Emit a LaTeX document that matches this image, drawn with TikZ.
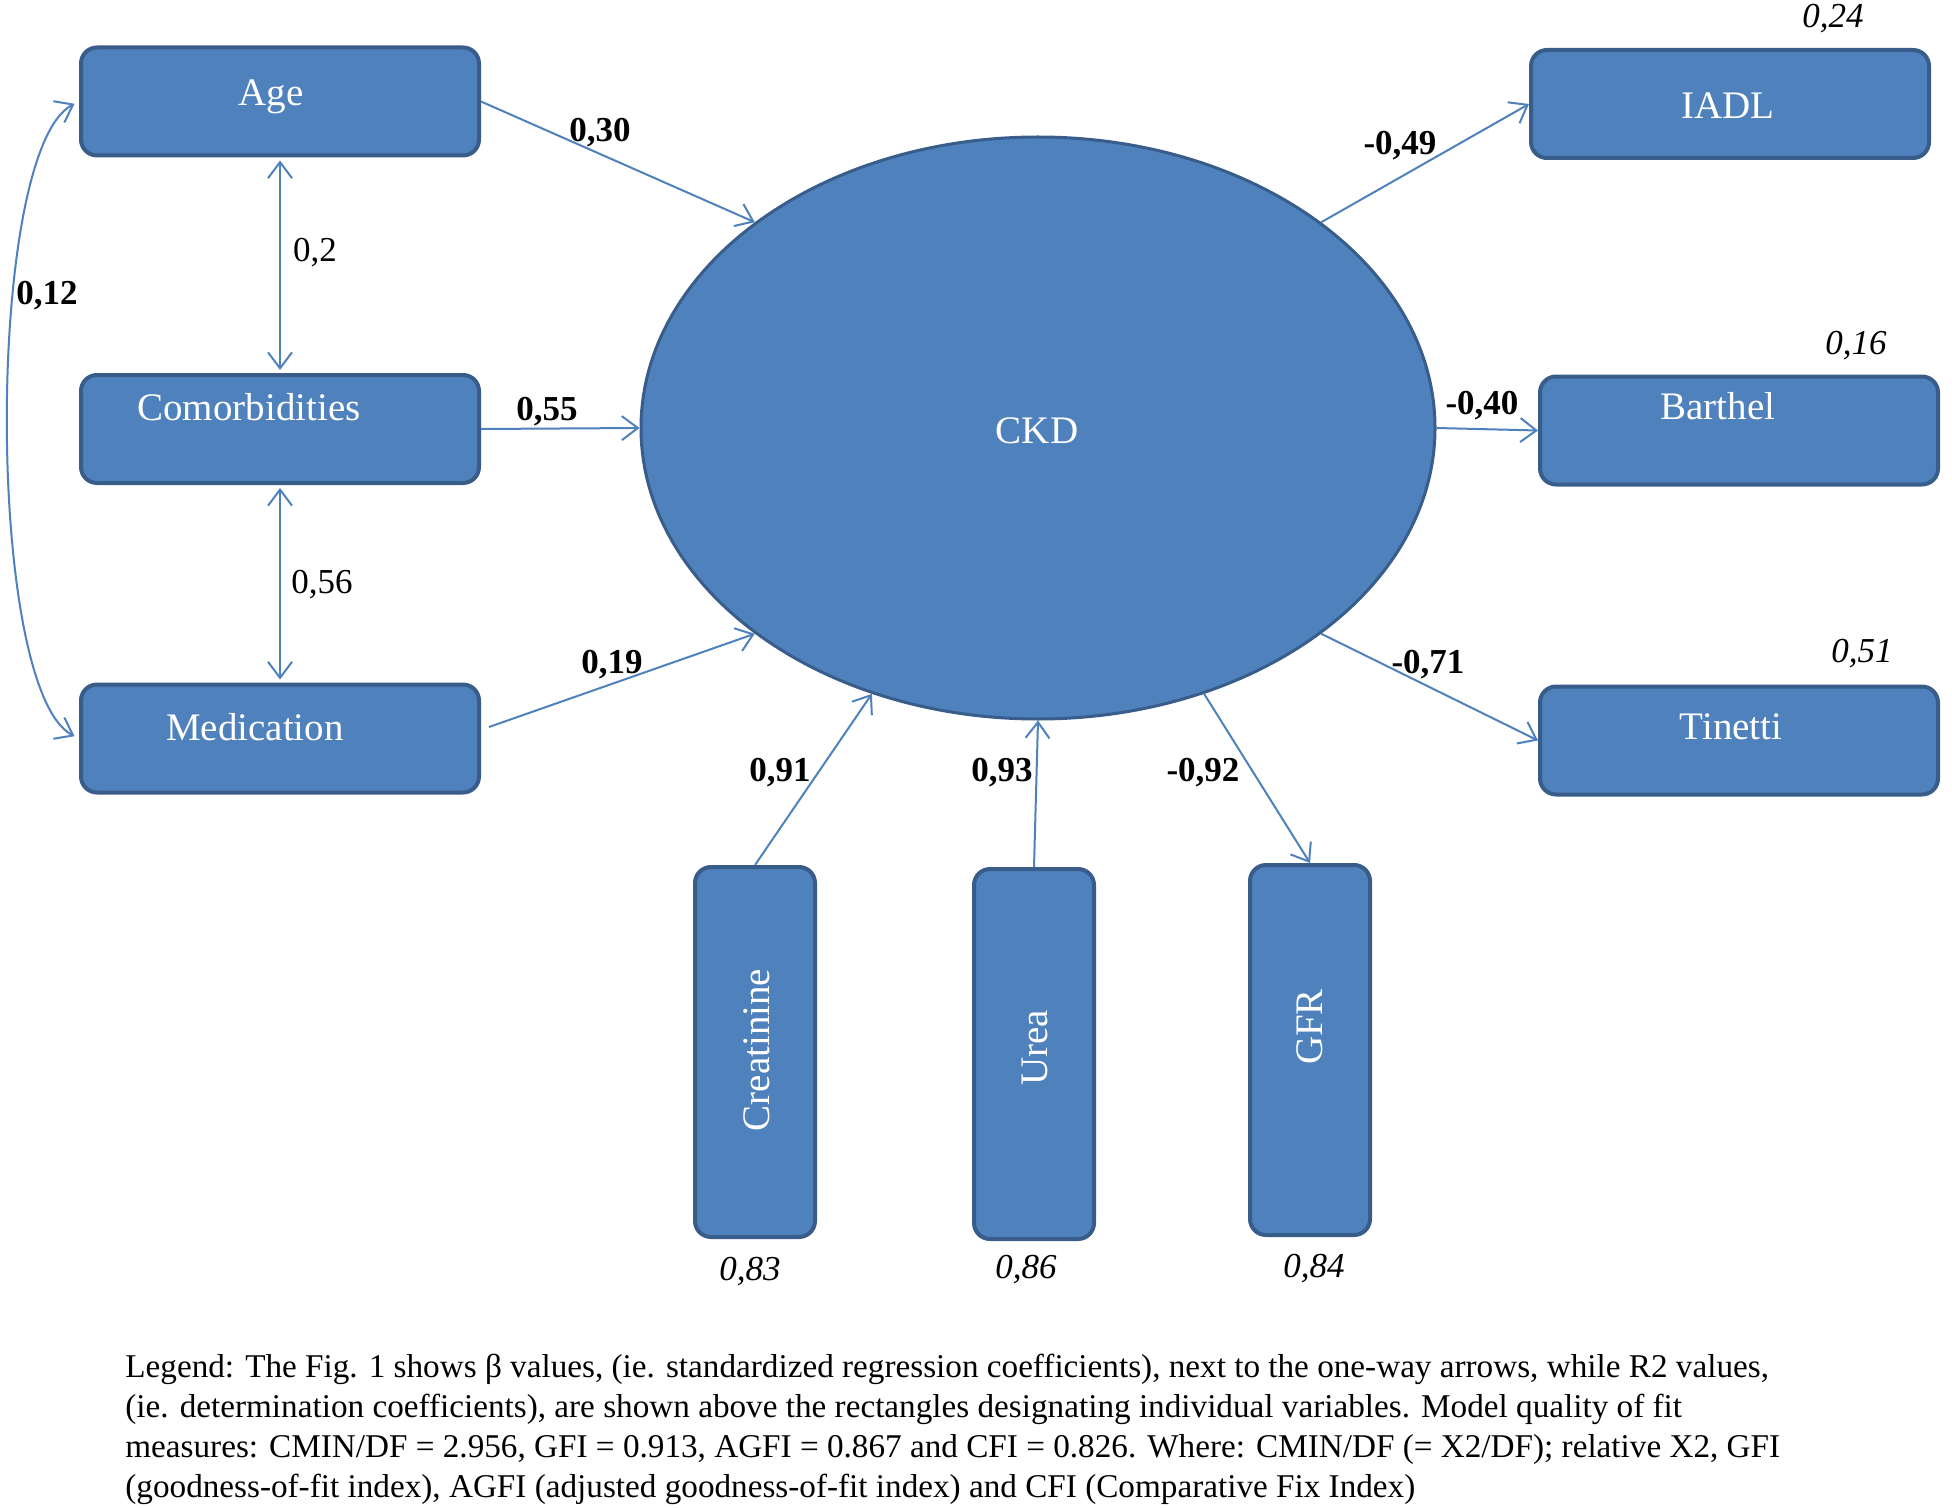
\documentclass[tikz,border=0pt]{standalone}
\usepackage{fontspec}
\setmainfont{Liberation Serif}
\usetikzlibrary{arrows.meta,shapes.geometric}
\definecolor{boxblue}{RGB}{79,129,189}
\definecolor{boxedge}{RGB}{56,93,138}
\definecolor{lineblue}{RGB}{79,129,189}
\tikzset{
  box/.style={draw=boxedge, fill=boxblue, line width=2pt, rounded corners=8pt,
    minimum width=199pt, minimum height=54pt, inner sep=0pt},
  vbox/.style={draw=boxedge, fill=boxblue, line width=2pt, rounded corners=8pt,
    minimum width=60pt, minimum height=185pt, inner sep=0pt},
  btxt/.style={text=white, font=\fontsize{19.5}{22}\selectfont, inner sep=0pt},
  conn/.style={draw=lineblue, line width=1pt, -{Straight Barb[length=8pt,width=12pt]}},
  bconn/.style={draw=lineblue, line width=1pt, {Straight Barb[length=8pt,width=12pt]}-{Straight Barb[length=8pt,width=12pt]}},
  lb/.style={font=\fontsize{17.5}{20}\selectfont\bfseries, inner sep=0pt},
  lr/.style={font=\fontsize{17.5}{20}\selectfont, inner sep=0pt},
  li/.style={font=\fontsize{17.5}{20}\selectfont\itshape, inner sep=0pt}
}
\begin{document}
\begin{tikzpicture}[x=0.5pt,y=-0.5pt]
\useasboundingbox[fill=white] (0,0) rectangle (1952,1508);

% latent variable
\node[ellipse, fill=boxblue, draw=boxedge, line width=1.5pt, minimum width=397pt, minimum height=291pt, inner sep=0pt] (ckd) at (1038,428) {};

% boxes
\node[box] (age) at (280,101.5) {};
\node[box] (com) at (280,429) {};
\node[box] (med) at (280,738.5) {};
\node[box] (iadl) at (1730,104) {};
\node[box] (barthel) at (1739,430.5) {};
\node[box] (tinetti) at (1739,740.5) {};
\node[vbox] (crea) at (755,1052) {};
\node[vbox] (urea) at (1034,1054) {};
\node[vbox] (gfr) at (1310,1050) {};

% texts
\node[btxt] (agetxt) at (271,97) {Age};
\node[btxt] (comtxt) at (249,407) {Comorbidities};
\node[btxt] (medtxt) at (255,727) {Medication};
\node[btxt] (iadltxt) at (1728,106) {IADL};
\node[btxt] (barttxt) at (1718,406) {Barthel};
\node[btxt] (tintxt) at (1731,727) {Tinetti};
\node[btxt] (ckdtxt) at (1037,431) {CKD};
\node[btxt, rotate=90] (creatxt) at (757,1050) {Creatinine};
\node[btxt, rotate=90] (ureatxt) at (1035,1048) {Urea};
\node[btxt, rotate=90] (gfrtxt) at (1310,1027) {GFR};

% connectors
\coordinate (medout) at (489,727);
\draw[conn] (age.east) -- (ckd.144);
\draw[conn] (com.east) -- (ckd.west);
\draw[conn] (medout) -- (ckd.216);
\draw[bconn, shorten <=1.5pt, shorten >=1.5pt] (age.south) -- (com.north);
\draw[bconn, shorten <=1.5pt, shorten >=1.5pt] (com.south) -- (med.north);
\draw[bconn, shorten <=2.5pt, shorten >=2.5pt] (age.west) .. controls (-15,150) and (-15,690) .. (med.west);
\draw[conn] (ckd.36) -- (iadl.west);
\draw[conn] (ckd.east) -- (barthel.west);
\draw[conn] (ckd.-36) -- (tinetti.west);
\draw[conn] (crea.north) -- (ckd.238);
\draw[conn] (urea.north) -- (ckd.south);
\draw[conn] (ckd.302) -- (gfr.north);

% coefficient labels
\node[lb] (l030) at (600,133) {0,30};
\node[lb] (l012) at (47,296) {0,12};
\node[lb] (l055) at (547,412) {0,55};
\node[lb] (l019) at (612,665) {0,19};
\node[lb] (l091) at (780,773) {0,91};
\node[lb] (l093) at (1002,773) {0,93};
\node[lb] (l092) at (1203,773) {-0,92};
\node[lb] (l049) at (1400,146) {-0,49};
\node[lb] (l040) at (1482,406) {-0,40};
\node[lb] (l071) at (1428,665) {-0,71};
\node[lr] (l02) at (315,253) {0,2};
\node[lr] (l056) at (322,585) {0,56};
\node[li] (r024) at (1833,19) {0,24};
\node[li] (r016) at (1856,346) {0,16};
\node[li] (r051) at (1862,654) {0,51};
\node[li] (r083) at (750,1272) {0,83};
\node[li] (r086) at (1026,1270) {0,86};
\node[li] (r084) at (1314,1269) {0,84};

% legend
\node[anchor=base west, align=left, inner sep=0pt, font=\fontsize{16.6}{20}\selectfont] (legend) at (125,1497)
{Legend: The Fig. 1 shows β values, (ie. standardized regression coefficients), next to the one-way arrows, while R2 values,\\
(ie. determination coefficients), are shown above the rectangles designating individual variables. Model quality of fit\\
measures: CMIN/DF = 2.956, GFI = 0.913, AGFI = 0.867 and CFI = 0.826. Where: CMIN/DF (= X2/DF); relative X2, GFI\\
(goodness-of-fit index), AGFI (adjusted goodness-of-fit index) and CFI (Comparative Fix Index)};
\end{tikzpicture}
\end{document}
